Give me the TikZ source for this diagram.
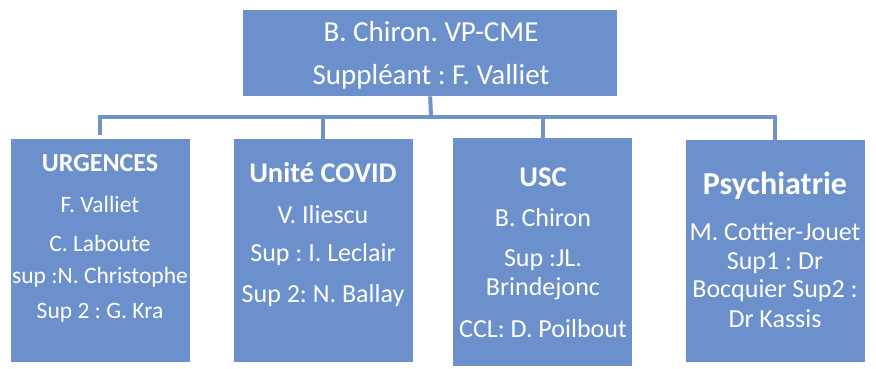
\documentclass[tikz,border=0pt]{standalone}
\usepackage{fontspec}
\setmainfont{Carlito}
\frenchspacing
\definecolor{boxblue}{RGB}{108,144,204}
\definecolor{linkblue}{RGB}{112,146,202}
\begin{document}
\begin{tikzpicture}[x=1pt,y=-1pt,
  unit/.style={fill=boxblue,draw=none,minimum width=179pt,inner sep=0pt},
  txt/.style={text=white,font=\fontsize{26}{28}\selectfont\frenchspacing,inner sep=0pt,anchor=center},
  txtsm/.style={text=white,font=\fontsize{23.5}{26}\selectfont\frenchspacing,inner sep=0pt,anchor=center},
  ttl/.style={text=white,font=\fontsize{28.5}{30}\selectfont\bfseries,inner sep=0pt,anchor=center},
  toptxt/.style={text=white,font=\fontsize{29}{32}\selectfont\frenchspacing,inner sep=0pt,anchor=center},
  link/.style={draw=linkblue,line width=4pt}]
\useasboundingbox (0,0) rectangle (876,369);
% boxes
\node[unit,minimum height=223pt,anchor=north west] (b1) at (11,139) {};
\node[unit,minimum height=223pt,anchor=north west] (b2) at (234,139) {};
\node[unit,minimum height=228pt,anchor=north west] (b3) at (453,138) {};
\node[unit,minimum height=222pt,anchor=north west] (b4) at (686,140) {};
\node[minimum width=374pt,minimum height=86pt,inner sep=0pt,fill=boxblue,anchor=north west] (top) at (243,10) {};
% connectors
\coordinate (h) at (431,117);
\draw[link] (top.south) -- (h);
\draw[link,line cap=rect] (b1.north -| 100,0) ++(0,-6) |- (431,117) -| ([yshift=-6pt]b4.north -| 775,0);
\draw[link] (323,117) -- ([yshift=-6pt]b2.north -| 323,0);
\draw[link] (543,117) -- ([yshift=-5pt]b3.north -| 543,0);
% top text
\node[toptxt] (t1) at (431,32) {B. Chiron. VP-CME};
\node[toptxt] (t2) at (431,77) {Suppléant : F. Valliet};
% box 1
\node[ttl,font=\fontsize{26}{28}\selectfont\bfseries] (a0) at (100,163) {URGENCES};
\node[txtsm] (a1) at (100,204) {F. Valliet};
\node[txtsm] (a2) at (100,243) {C. Laboute};
\node[txtsm] (a3) at (100,277) {sup :N. Christophe};
\node[txtsm] (a4) at (100,313) {Sup 2 : G. Kra};
% box 2
\node[ttl] (c0) at (323,173) {Unité COVID};
\node[txt] (c1) at (323,215) {V. Iliescu};
\node[txt] (c2) at (323,255) {Sup : I. Leclair};
\node[txt] (c3) at (323,296) {Sup 2: N. Ballay};
% box 3
\node[ttl] (d0) at (543,177) {USC};
\node[txt] (d1) at (543,218) {B. Chiron};
\node[txt] (d2) at (543,260) {Sup :JL.};
\node[txt] (d3) at (543,289) {Brindejonc};
\node[txt] (d4) at (543,329) {CCL: D. Poilbout};
% box 4
\node[ttl,font=\fontsize{32}{34}\selectfont\bfseries] (e0) at (775,186) {Psychiatrie};
\node[txt] (e1) at (775,232) {M. Cottier-Jouet};
\node[txt] (e2) at (775,263) {Sup1 : Dr};
\node[txt] (e3) at (775,291) {Bocquier Sup2 :};
\node[txt] (e4) at (775,319) {Dr Kassis};
\end{tikzpicture}
\end{document}
